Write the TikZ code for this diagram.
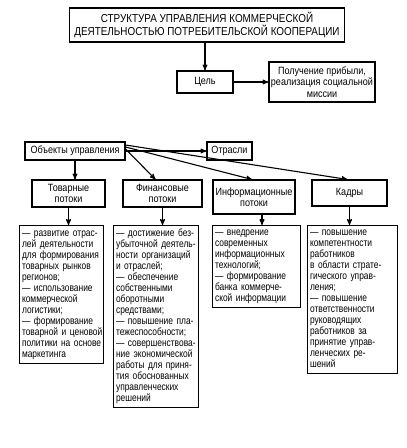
\documentclass[tikz,border=0pt]{standalone}
\usepackage{fontspec}
\setmainfont{Liberation Sans}[FakeStretch=0.86]
\newfontfamily\listfont{Liberation Sans}[FakeStretch=0.8]
\usetikzlibrary{arrows}
\newcommand{\itemlines}[1]{\begin{tabular}{@{}l@{}}#1\end{tabular}}

\begin{document}
\begin{tikzpicture}[x=1pt,y=-1pt,>=stealth',shorten >=0pt,line width=1.1pt,
                box node/.style={rectangle,draw,align=center,inner sep=2pt,font=\fontsize{10.5}{11.5}\selectfont},
                list node/.style={rectangle,draw,align=left,anchor=north west,inner sep=2.5pt,font=\listfont\fontsize{10.5}{11}\selectfont}]
                \useasboundingbox (0,0) rectangle (407,448);
                \node[box node,minimum width=275pt,minimum height=34pt,font=\fontsize{11.5}{12.5}\selectfont] (title) at (207,25)
                {СТРУКТУРА УПРАВЛЕНИЯ КОММЕРЧЕСКОЙ\\ДЕЯТЕЛЬНОСТЬЮ ПОТРЕБИТЕЛЬСКОЙ КООПЕРАЦИИ};
                \node[box node,minimum width=56pt,minimum height=22pt] (cel) at (205,82) {Цель};
                \node[box node,minimum width=92pt,minimum height=40pt] (goal) at (322,82)
                {Получение прибыли,\\реализация социальной\\миссии};
                \node[box node,minimum width=100pt,minimum height=18pt] (obj) at (75,151) {Объекты управления};
                \node[box node,minimum width=45pt,minimum height=18pt] (otr) at (229.5,151) {Отрасли};
                \node[box node,minimum width=73pt,minimum height=27pt] (tov) at (68.5,193.5) {Товарные\\потоки};
                \node[box node,minimum width=79pt,minimum height=27pt] (fin) at (162.5,193.5) {Финансовые\\потоки};
                \node[box node,minimum width=82pt,minimum height=34pt] (inf) at (254,197) {Информационные\\потоки};
                \node[box node,minimum width=75pt,minimum height=26pt] (kad) at (349.5,193) {Кадры};
                
                \node[list node,text width=79pt,minimum height=138pt] (tovl) at (19,225)
                {\itemlines{— развитие отрас-\\лей деятельности\\для формирования\\товарных рынков\\регионов;\\— использование\\коммерческой\\логистики;\\— формирование\\товарной и ценовой\\политики на основе\\маркетинга}};
                \node[list node,text width=80pt,minimum height=182pt] (finl) at (113,225)
                {\itemlines{— достижение без-\\убыточной деятель-\\ности организаций\\и отраслей;\\— обеспечение\\собственными\\оборотными\\средствами;\\— повышение пла-\\тежеспособности;\\— совершенствова-\\ние экономической\\работы для приня-\\тия обоснованных\\управленческих\\решений}};
                \node[list node,text width=83pt,minimum height=82pt] (infl) at (212,225)
                {\itemlines{— внедрение\\современных\\информационных\\технологий;\\— формирование\\банка коммерче-\\ской информации}};
                \node[list node,text width=85pt,minimum height=145pt] (kadl) at (307,225)
                {\itemlines{— повышение\\компетентности\\работников\\в области страте-\\гического управ-\\ления;\\— повышение\\ответственности\\руководящих\\работников за\\принятие управ-\\ленческих ре-\\шений}};
                
                \coordinate (fina) at ([xshift=-7pt]fin.north);
                \coordinate (infa) at ([xshift=8pt]inf.south);
                \path[->]
                (cel.north |- title.south) edge (cel)
                (cel) edge (goal)
                (obj.east) edge (otr)
                (obj.south) edge (obj.south |- tov.north)
                ([yshift=2pt]obj.east) edge (fina)
                ([yshift=4pt]obj.east) edge ([xshift=-2pt]inf.north)
                ([yshift=6pt]obj.east) edge ([xshift=-2pt]kad.north)
                (tov.south) edge (tov.south |- tovl.north)
                (fin.south) edge (fin.south |- finl.north)
                (infa) edge (infa |- infl.north)
                (kad.south) edge (kad.south |- kadl.north)
                ;
\end{tikzpicture}
\end{document}
